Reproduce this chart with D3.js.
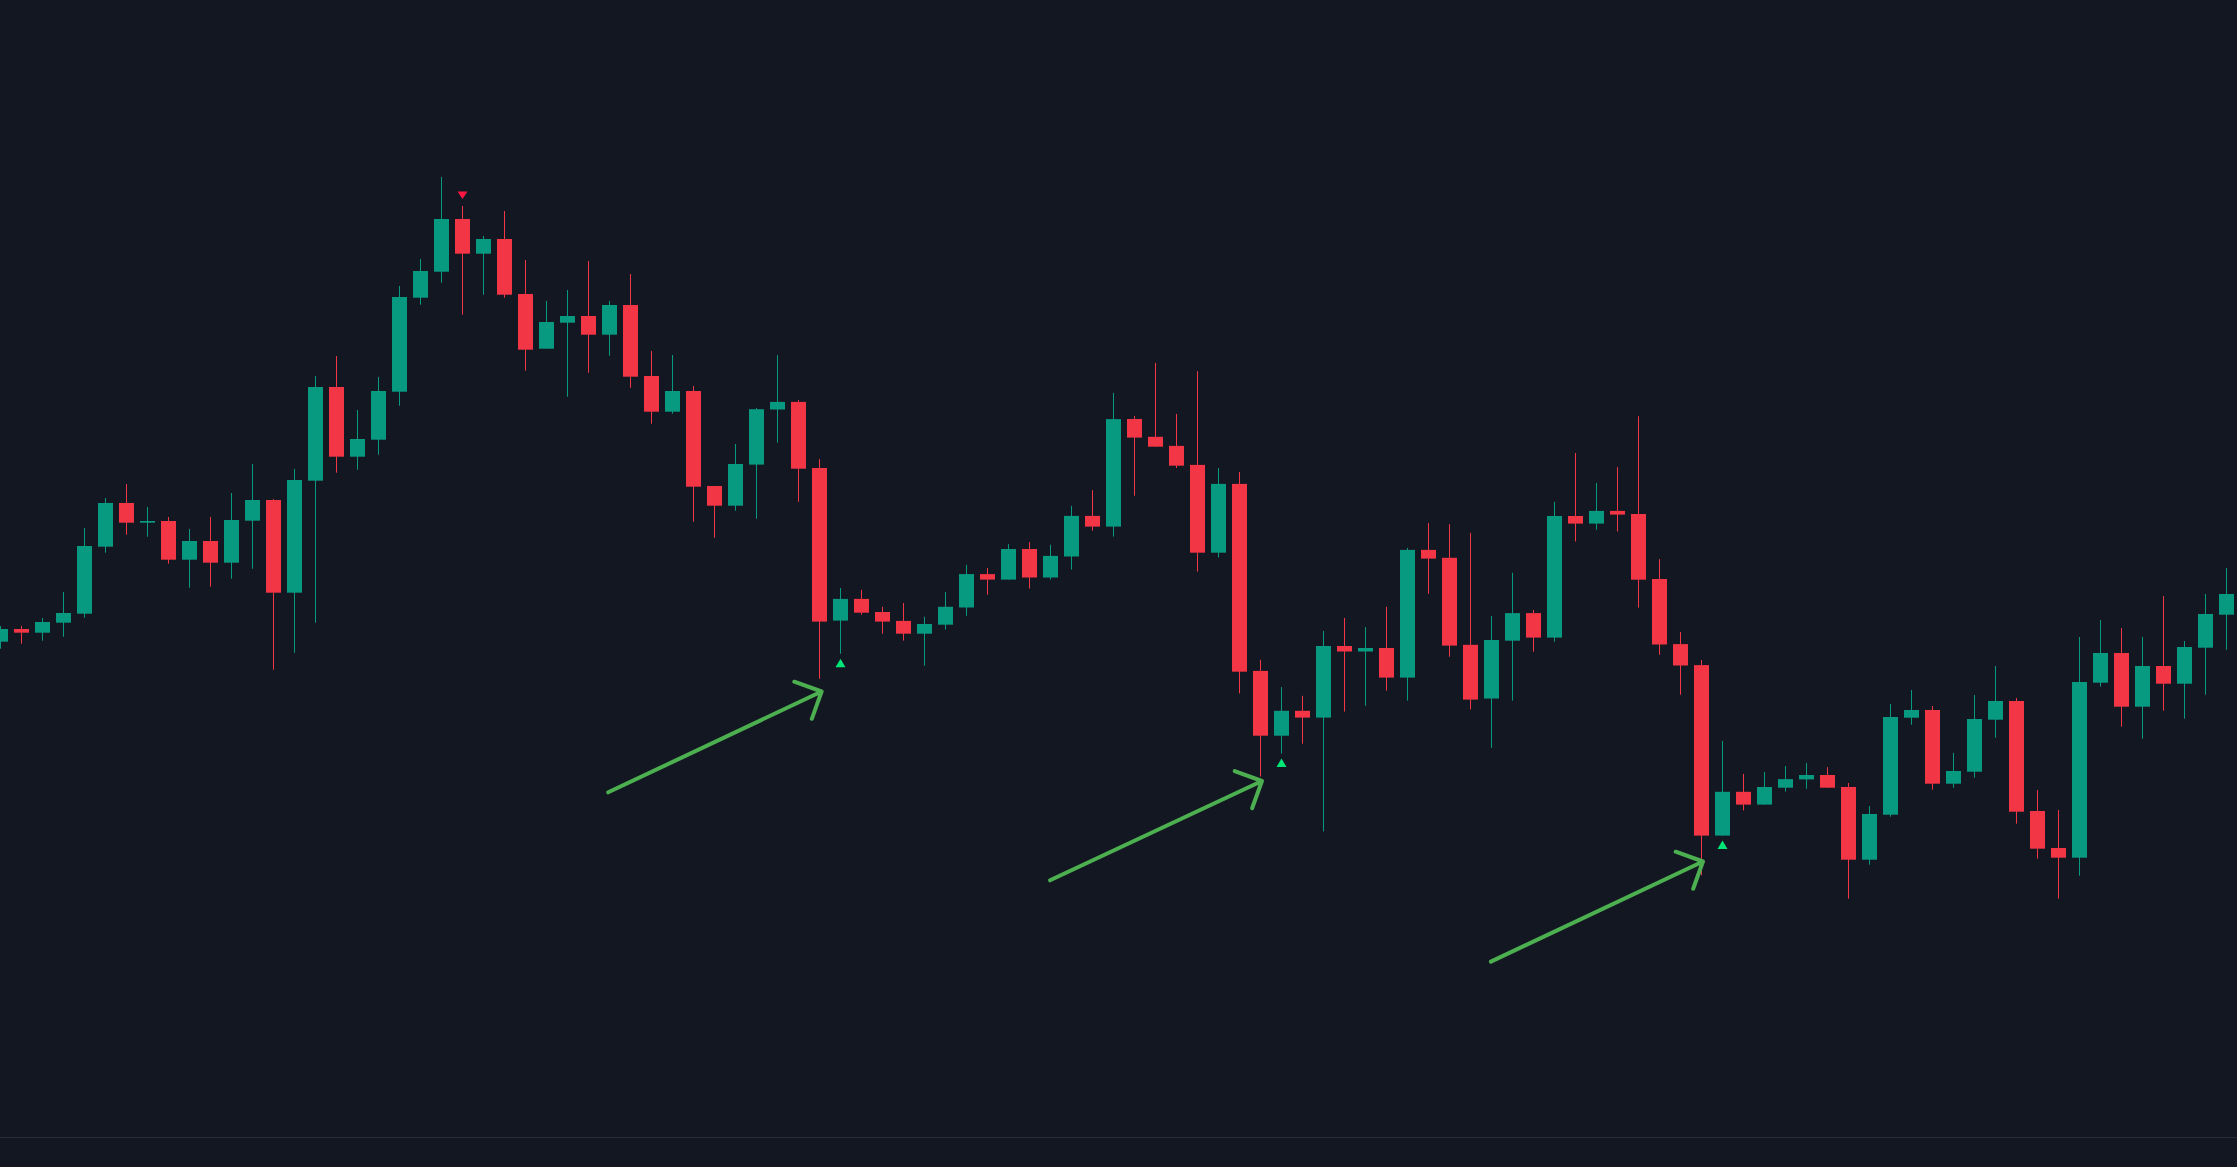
<!DOCTYPE html>
<html>
<head>
<meta charset="utf-8">
<script src="https://cdn.jsdelivr.net/npm/d3@7"></script>
<style>
  html, body { margin: 0; padding: 0; background: #131722; overflow: hidden; }
  svg { display: block; }
</style>
</head>
<body>
<svg id="chart" width="2237" height="1167"></svg>
<script>
// ---- DATA ----
const openVals = [
  35.83, 37.10, 36.73, 37.73, 38.63, 45.33, 49.70, 47.73, 47.90, 44.03,
  45.90, 43.73, 47.93, 50.00, 40.73, 51.93, 61.30, 54.33, 56.03, 60.83,
  70.23, 72.83, 78.10, 74.63, 76.10, 70.60, 65.13, 67.73, 68.40, 66.53,
  69.50, 62.40, 58.83, 60.90, 51.40, 49.43, 53.54, 59.05, 59.81, 53.20,
  37.94, 40.11, 38.80, 37.91, 36.63, 37.53, 39.25, 42.59, 42.04, 45.10,
  42.25, 44.35, 48.41, 47.34, 58.10, 56.32, 55.41, 53.51, 44.73, 51.61,
  32.91, 26.43, 28.92, 28.24, 35.40, 34.85, 35.20, 32.24, 45.01, 44.22,
  35.52, 30.15, 35.93, 38.69, 36.24, 48.40, 47.64, 48.91, 48.60, 42.10,
  35.59, 33.49, 16.44, 20.82, 19.54, 21.23, 22.06, 22.50, 21.30, 14.03,
  18.53, 28.23, 29.00, 21.63, 22.83, 28.03, 29.90, 18.90, 15.20, 14.23,
  31.73, 34.70, 29.33, 33.40, 31.63, 35.23, 38.53
];
const highVals = [
  37.40, 37.40, 38.20, 40.80, 47.20, 50.20, 51.60, 49.30, 48.30, 47.10,
  48.30, 50.70, 53.60, 50.10, 53.10, 62.40, 64.40, 59.00, 62.30, 71.40,
  74.10, 82.30, 79.40, 76.40, 78.90, 74.00, 69.90, 71.00, 73.90, 69.90,
  72.60, 64.90, 64.50, 61.40, 51.40, 55.60, 59.19, 64.49, 60.01, 54.09,
  41.21, 41.01, 39.32, 39.70, 38.32, 40.80, 43.52, 43.21, 45.59, 45.79,
  45.52, 49.41, 50.99, 60.70, 58.41, 63.71, 58.61, 62.88, 53.20, 52.80,
  34.02, 31.29, 30.42, 36.90, 38.21, 37.30, 39.32, 45.21, 47.70, 47.58,
  46.71, 38.41, 42.72, 39.00, 49.81, 54.70, 51.70, 53.29, 58.38, 44.09,
  36.79, 34.00, 25.91, 22.61, 22.81, 23.40, 23.71, 23.29, 21.70, 19.40,
  29.60, 31.00, 29.40, 24.70, 30.50, 33.40, 30.20, 21.00, 19.00, 36.30,
  38.00, 37.20, 36.30, 40.40, 35.90, 40.60, 43.20
];
const lowVals = [
  35.13, 35.63, 35.93, 36.33, 38.23, 44.73, 46.53, 46.33, 43.63, 41.23,
  41.33, 42.13, 43.13, 33.03, 34.73, 37.73, 52.73, 53.03, 54.53, 59.43,
  69.53, 71.73, 68.53, 70.53, 70.23, 62.93, 65.13, 60.33, 62.73, 64.43,
  61.23, 57.63, 58.63, 47.83, 46.23, 48.93, 48.13, 55.74, 49.82, 32.12,
  34.63, 38.53, 36.63, 35.94, 33.43, 37.05, 38.42, 40.52, 42.04, 41.14,
  42.04, 43.04, 46.93, 46.34, 50.43, 55.33, 53.20, 42.84, 44.26, 30.66,
  22.35, 24.65, 25.63, 16.86, 28.84, 29.43, 30.93, 29.94, 40.62, 34.33,
  29.05, 25.22, 29.94, 34.83, 35.83, 45.85, 47.02, 46.85, 39.24, 34.52,
  30.53, 12.48, 16.44, 18.96, 19.54, 20.85, 21.13, 21.23, 10.13, 13.53,
  18.33, 27.53, 21.03, 21.23, 22.23, 26.23, 17.63, 14.13, 10.13, 12.43,
  31.33, 27.33, 26.13, 28.93, 28.13, 30.53, 35.03
];
const closeVals = [
  37.10, 36.73, 37.80, 38.70, 45.40, 49.70, 47.73, 47.90, 44.03, 45.90,
  43.73, 48.00, 50.00, 40.73, 52.00, 61.30, 54.33, 56.10, 60.90, 70.30,
  72.90, 78.10, 74.63, 76.10, 70.53, 65.03, 67.80, 68.40, 66.53, 69.50,
  62.33, 58.83, 60.90, 51.33, 49.43, 53.60, 59.08, 59.81, 53.13, 37.84,
  40.11, 38.73, 37.84, 36.63, 37.60, 39.32, 42.59, 42.04, 45.10, 42.25,
  44.41, 48.41, 47.34, 58.09, 56.24, 55.33, 53.43, 44.73, 51.61, 32.83,
  26.43, 28.92, 28.24, 35.40, 34.85, 35.20, 32.24, 45.01, 44.14, 35.44,
  30.04, 36.00, 38.69, 36.24, 48.40, 47.64, 48.91, 48.54, 42.03, 35.55,
  33.45, 16.44, 20.82, 19.54, 21.30, 22.09, 22.50, 21.23, 14.03, 18.60,
  28.30, 29.00, 21.63, 22.90, 28.10, 29.90, 18.83, 15.13, 14.23, 31.80,
  34.70, 29.33, 33.40, 31.63, 35.30, 38.60, 40.60
];

// signal markers (bar indices)
const buySignals = [40, 61, 82];
const sellSignals = [22];

// drawn arrow annotations (bar index, price)
const arrowFromIdx   = [28.95, 49.99, 70.98];
const arrowFromPrice = [20.77, 11.97, 3.84];
const arrowToIdx     = [39.11, 60.08, 81.08];
const arrowToPrice   = [30.85, 21.90, 13.85];

// ---- STYLE ----
const W = 2237, H = 1167;
const BG = "#131722";
const UP = "#089981", DOWN = "#f23645";
const BUY = "#00e676", SELL = "#ff1744";
const ARROW = "#4caf50";

const bars = openVals.map((o, i) => ({
  i, o, h: highVals[i], l: lowVals[i], c: closeVals[i]
}));

const svg = d3.select("#chart");
svg.append("rect").attr("width", W).attr("height", H).attr("fill", BG);

const x = d3.scaleLinear().domain([0, bars.length - 1]).range([0.3, 2226.3]);
const y = d3.scaleLinear().domain([0, 100]).range([1000, 0]);

const bodyW = 15;
const g = svg.append("g");

// wicks
g.selectAll("rect.wick").data(bars).join("rect")
  .attr("class", "wick")
  .attr("x", d => Math.round(x(d.i)))
  .attr("width", 1)
  .attr("y", d => y(d.h))
  .attr("height", d => Math.max(1, y(d.l) - y(d.h)))
  .attr("fill", d => d.c >= d.o ? UP : DOWN);

// bodies
g.selectAll("rect.body").data(bars).join("rect")
  .attr("class", "body")
  .attr("x", d => Math.round(x(d.i)) - 7)
  .attr("width", bodyW)
  .attr("y", d => y(Math.max(d.o, d.c)))
  .attr("height", d => Math.max(1.5, Math.abs(y(d.o) - y(d.c))))
  .attr("fill", d => d.c >= d.o ? UP : DOWN);

// buy markers (up triangles below low)
g.selectAll("path.buy").data(buySignals).join("path")
  .attr("class", "buy")
  .attr("fill", BUY)
  .attr("d", i => {
    const cx = Math.round(x(i)) + 0.5, top = y(lowVals[i]) + 5;
    return `M${cx},${top} L${cx + 5},${top + 8.5} L${cx - 5},${top + 8.5} Z`;
  });

// sell markers (down triangles above high)
g.selectAll("path.sell").data(sellSignals).join("path")
  .attr("class", "sell")
  .attr("fill", SELL)
  .attr("d", i => {
    const cx = Math.round(x(i)) + 0.5, bot = y(highVals[i]) - 7;
    return `M${cx},${bot} L${cx + 5},${bot - 7.5} L${cx - 5},${bot - 7.5} Z`;
  });

// arrows
const arrows = arrowFromIdx.map((fi, k) => ({
  x1: x(fi), y1: y(arrowFromPrice[k]), x2: x(arrowToIdx[k]), y2: y(arrowToPrice[k])
}));
const headLen = 29, headAng = Math.PI / 4;
g.selectAll("path.arrow").data(arrows).join("path")
  .attr("class", "arrow")
  .attr("fill", "none")
  .attr("stroke", ARROW)
  .attr("stroke-width", 4)
  .attr("stroke-linecap", "round")
  .attr("stroke-linejoin", "round")
  .attr("d", a => {
    const ang = Math.atan2(a.y1 - a.y2, a.x1 - a.x2);
    const p1 = [a.x2 + headLen * Math.cos(ang + headAng), a.y2 + headLen * Math.sin(ang + headAng)];
    const p2 = [a.x2 + headLen * Math.cos(ang - headAng), a.y2 + headLen * Math.sin(ang - headAng)];
    return `M${a.x1},${a.y1} L${a.x2},${a.y2} M${p1[0]},${p1[1]} L${a.x2},${a.y2} L${p2[0]},${p2[1]}`;
  });

// bottom separator line
svg.append("rect").attr("x", 0).attr("y", 1137).attr("width", W).attr("height", 1).attr("fill", "#2a2e39");
</script>
</body>
</html>
